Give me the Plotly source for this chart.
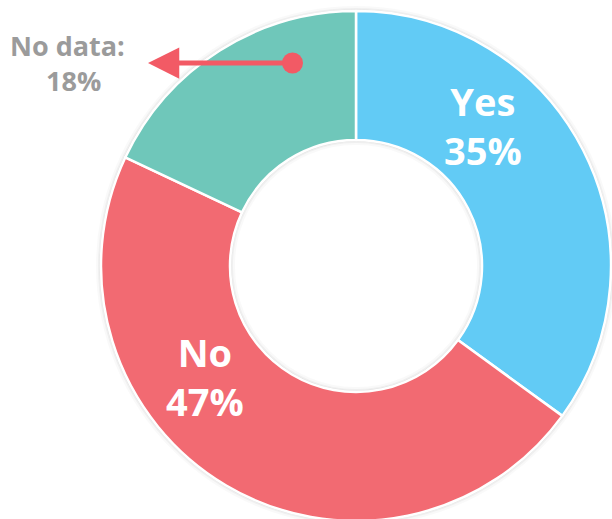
import plotly.graph_objects as go

# ---- data ----
labels = ["Yes", "No", "No data"]
values = [35, 47, 18]
colors = ["#62CBF5", "#F26A72", "#6FC7BA"]

# ---- canvas (larger than the window so the donut is cropped like the reference) ----
W, H = 712, 532
CX, CY, R = 356, 266, 255
HOLE = 126 / 255


def px(x):
    return x / W


def py(y):
    return 1 - y / H


def dom(r):
    return dict(x=[px(CX - r), px(CX + r)], y=[py(CY + r), py(CY - r)])


fig = go.Figure()

# soft shadow rings behind the donut
for k, a in [(5, 0.025), (3, 0.04), (1.5, 0.06)]:
    r = R + k
    fig.add_trace(go.Pie(
        values=[sum(values)], labels=["shadow"], hole=(126 - k) / r,
        domain=dom(r), sort=False, textinfo="none", hoverinfo="skip",
        marker=dict(colors=[f"rgba(0,0,0,{a})"], line=dict(width=0)),
        showlegend=False,
    ))

fig.add_trace(go.Pie(
    labels=labels, values=values, hole=HOLE, sort=False, direction="clockwise",
    rotation=0, domain=dom(R), textinfo="none", hoverinfo="label+percent",
    marker=dict(colors=colors, line=dict(color="white", width=2.5)),
    showlegend=False,
))

font_big = "Open Sans, Arial, sans-serif"
label_pos = {"Yes": (483, 126), "No": (205, 376)}
for lab, val in zip(labels, values):
    if lab in label_pos:
        x, y = label_pos[lab]
        fig.add_annotation(
            x=px(x), y=py(y), xref="paper", yref="paper", showarrow=False,
            text=f"<b>{lab}<br>{val}%</b>",
            font=dict(family=font_big, size=38, color="white"),
            xanchor="center", yanchor="middle",
        )

# "No data" callout
fig.add_annotation(
    x=px(67), y=py(45), xref="paper", yref="paper", showarrow=False,
    text=f"<b>{labels[2]}:</b>",
    font=dict(family=font_big, size=27, color="#9B9B9B"),
    xanchor="center", yanchor="middle",
)
fig.add_annotation(
    x=px(73), y=py(80), xref="paper", yref="paper", showarrow=False,
    text=f"<b>{values[2]}%</b>",
    font=dict(family=font_big, size=27, color="#9B9B9B"),
    xanchor="center", yanchor="middle",
)
fig.add_annotation(
    x=px(148), y=py(63), ax=146, ay=0,
    xref="paper", yref="paper", axref="pixel", ayref="pixel",
    text="", showarrow=True, arrowside="end+start",
    arrowhead=2, arrowsize=1.25, startarrowhead=6, startarrowsize=1.05,
    arrowwidth=5, arrowcolor="#F25A65", standoff=0, startstandoff=0,
)

fig.update_layout(
    width=W, height=H, margin=dict(l=0, r=0, t=0, b=0),
    paper_bgcolor="white", plot_bgcolor="white",
)

fig.write_html(
    "out.html",
    post_script="document.body.style.margin='0';document.body.style.overflow='hidden';",
)
